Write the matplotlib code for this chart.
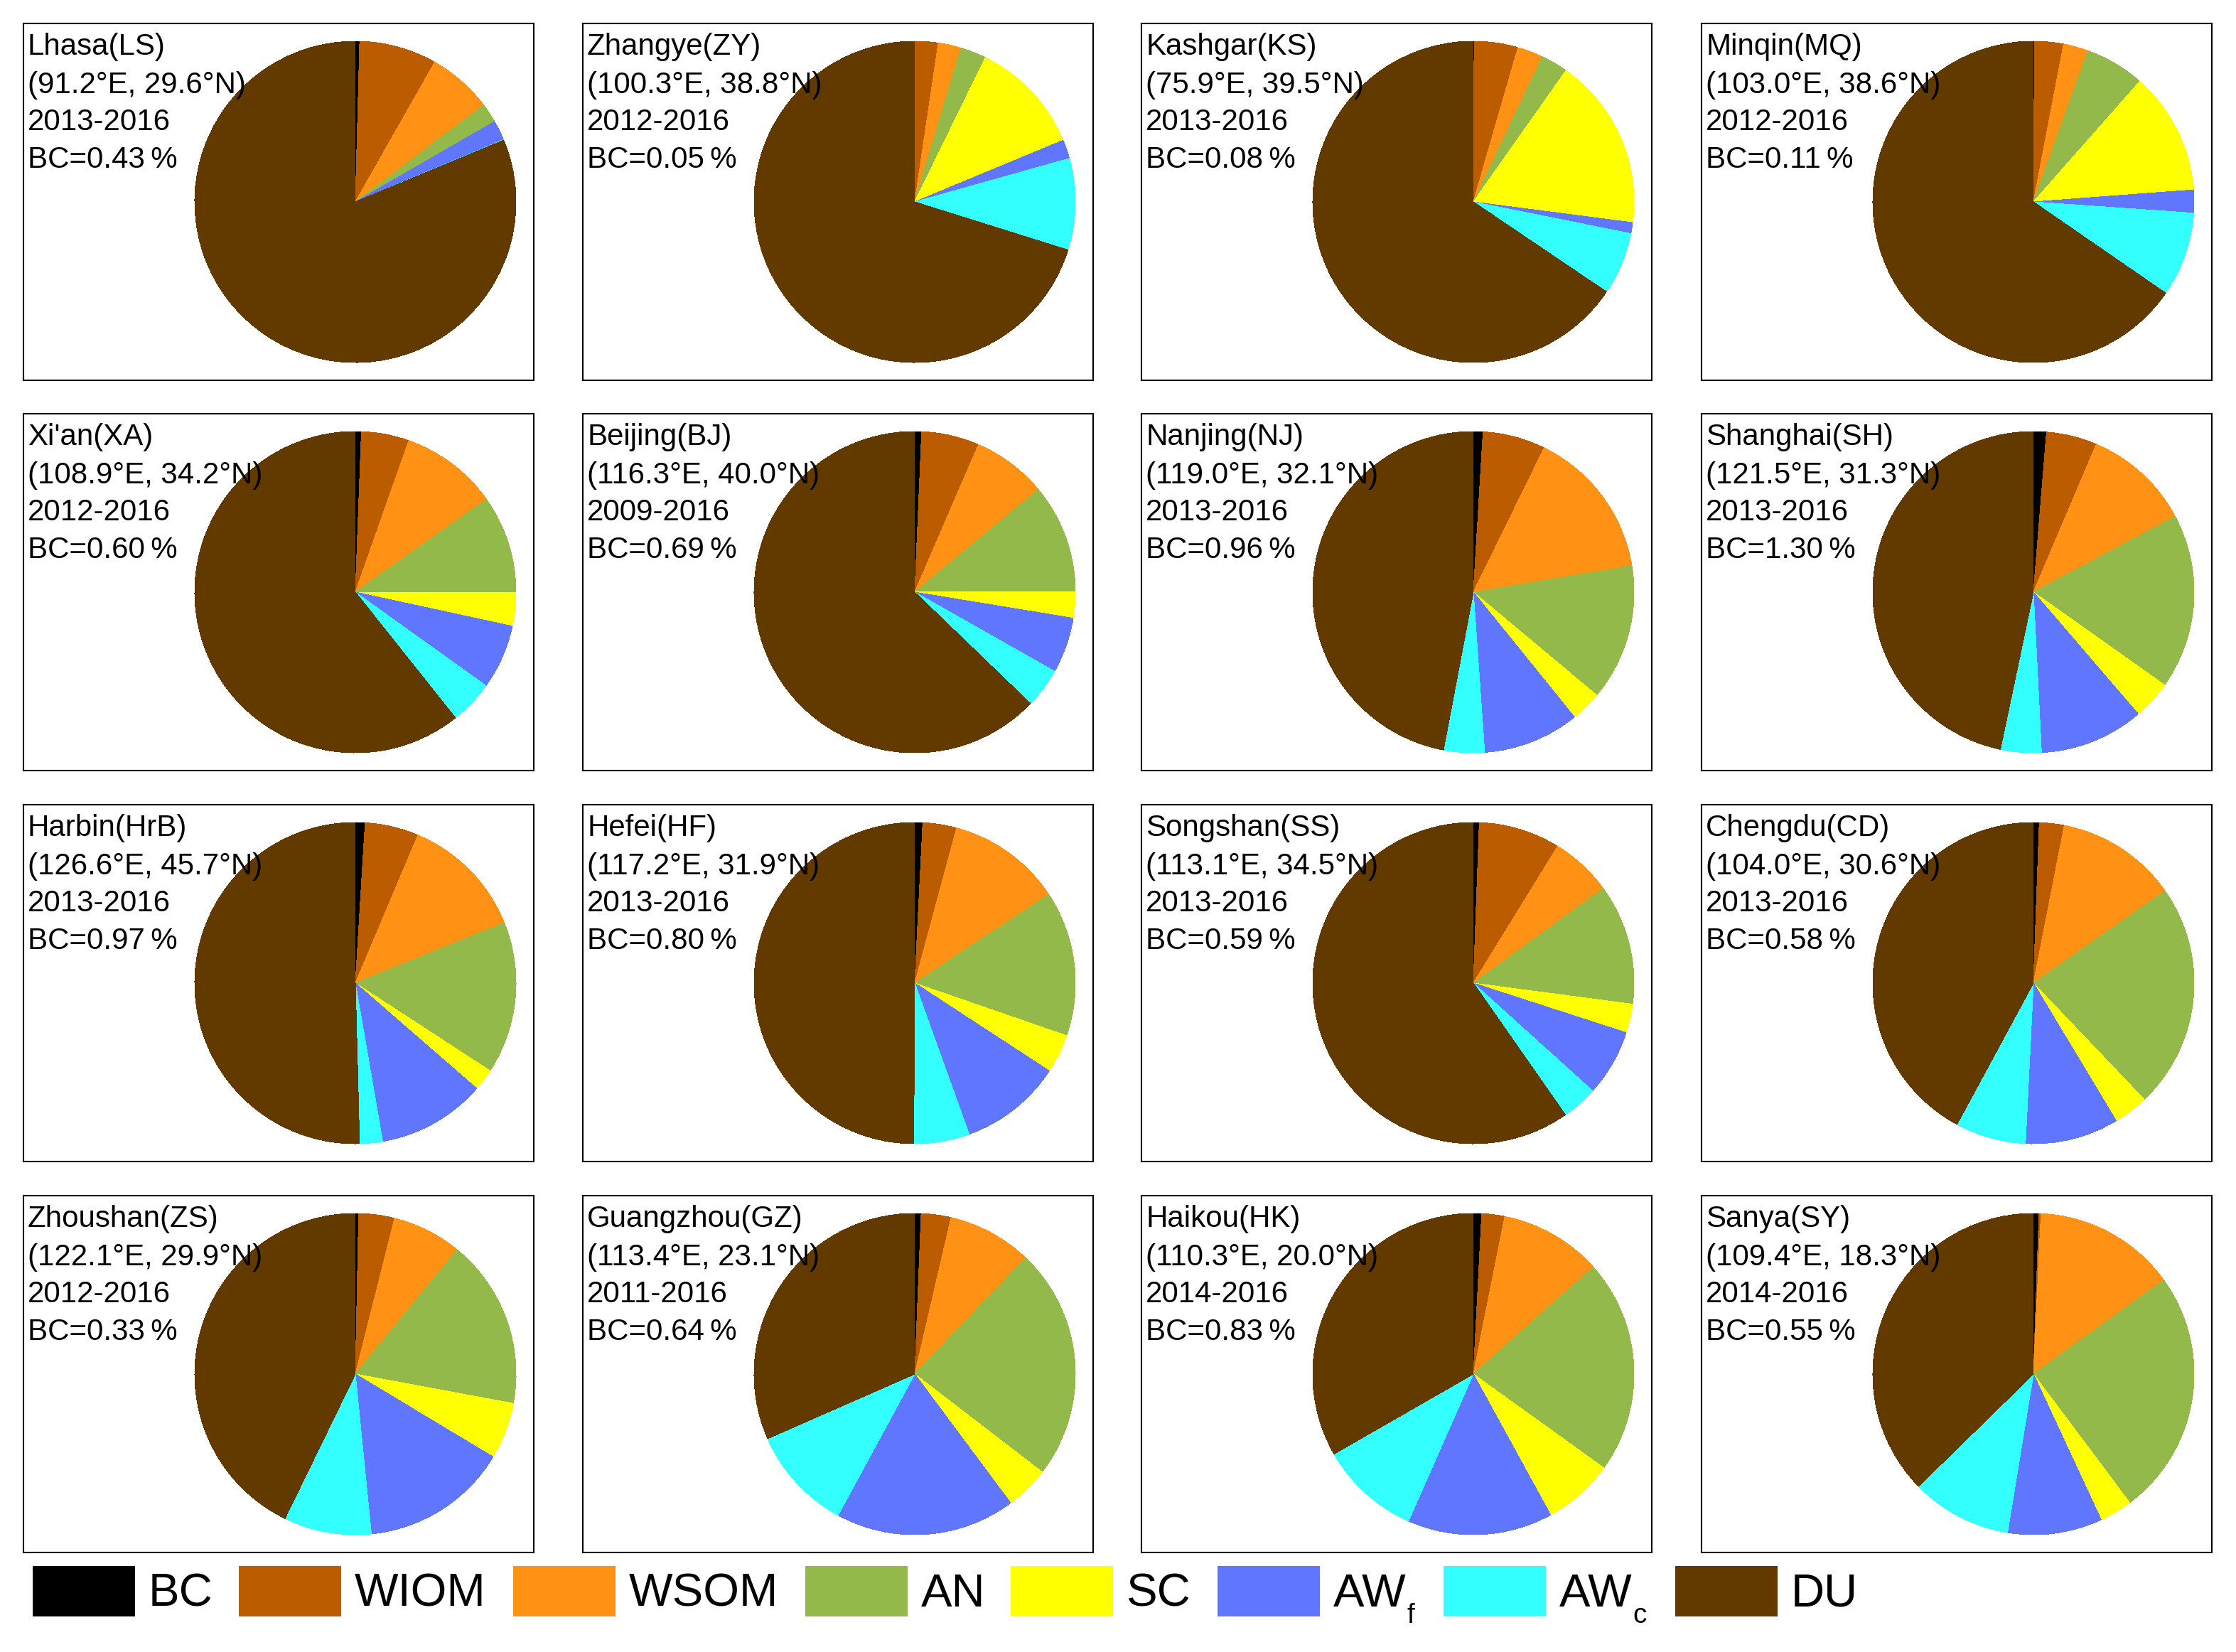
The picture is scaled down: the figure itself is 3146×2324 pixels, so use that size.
import matplotlib
matplotlib.use("Agg")
import matplotlib.pyplot as plt
from matplotlib.patches import Rectangle

plt.rcParams["font.family"] = ["Liberation Sans", "DejaVu Sans"]

# Stations, left to right, top to bottom
stations = ["Lhasa(LS)", "Zhangye(ZY)", "Kashgar(KS)", "Minqin(MQ)",
            "Xi'an(XA)", "Beijing(BJ)", "Nanjing(NJ)", "Shanghai(SH)",
            "Harbin(HrB)", "Hefei(HF)", "Songshan(SS)", "Chengdu(CD)",
            "Zhoushan(ZS)", "Guangzhou(GZ)", "Haikou(HK)", "Sanya(SY)"]
coords = ["91.2°E, 29.6°N", "100.3°E, 38.8°N", "75.9°E, 39.5°N", "103.0°E, 38.6°N",
          "108.9°E, 34.2°N", "116.3°E, 40.0°N", "119.0°E, 32.1°N", "121.5°E, 31.3°N",
          "126.6°E, 45.7°N", "117.2°E, 31.9°N", "113.1°E, 34.5°N", "104.0°E, 30.6°N",
          "122.1°E, 29.9°N", "113.4°E, 23.1°N", "110.3°E, 20.0°N", "109.4°E, 18.3°N"]
periods = ["2013-2016", "2012-2016", "2013-2016", "2012-2016",
           "2012-2016", "2009-2016", "2013-2016", "2013-2016",
           "2013-2016", "2013-2016", "2013-2016", "2013-2016",
           "2012-2016", "2011-2016", "2014-2016", "2014-2016"]

# Mass fractions in percent
bc = [0.43, 0.05, 0.08, 0.11, 0.60, 0.69, 0.96, 1.30,
      0.97, 0.80, 0.59, 0.58, 0.33, 0.64, 0.83, 0.55]
wiom = [7.8, 2.3, 4.4, 2.9, 4.8, 5.8, 6.3, 5.1,
        5.4, 3.4, 8.2, 2.5, 3.6, 3.0, 2.3, 0.2]
wsom = [6.5, 2.3, 2.6, 2.5, 9.8, 7.5, 15.1, 10.8,
        12.5, 11.5, 6.2, 12.2, 7.0, 8.5, 10.3, 14.3]
an = [1.95, 2.6, 2.7, 6.0, 9.8, 11.0, 13.7, 17.6,
      15.3, 14.6, 12.1, 22.6, 17.0, 23.3, 21.5, 24.7]
sc = [0.0, 11.5, 17.3, 12.3, 3.4, 2.6, 3.1, 3.9,
      2.2, 3.9, 2.9, 3.5, 5.7, 4.4, 7.1, 3.3]
awf = [2.0, 1.9, 1.1, 2.3, 6.5, 5.6, 9.7, 10.5,
       10.9, 10.3, 6.7, 9.4, 14.8, 18.1, 14.6, 9.5]
awc = [0.05, 9.2, 6.3, 8.5, 4.4, 4.0, 4.1, 4.1,
       2.3, 5.6, 3.6, 7.1, 8.8, 10.5, 10.1, 10.1]
du = [81.3, 70.2, 65.6, 65.4, 60.7, 62.8, 47.0, 46.7,
      50.4, 49.9, 59.7, 42.1, 42.8, 31.6, 33.3, 37.3]

species = ["BC", "WIOM", "WSOM", "AN", "SC", "AW", "AW", "DU"]
subscripts = ["", "", "", "", "", "f", "c", ""]
colors = ["#000000", "#BB5C00", "#FF9114", "#92B94A",
          "#FFFF00", "#6076FF", "#33FFFF", "#623A00"]

W, H = 3146, 2324
fig = plt.figure(figsize=(W / 200, H / 200), dpi=200)

box_x = [33, 820, 1606, 2394]
box_y = [33, 582, 1132, 1682]
box_w, box_h = 718, 502
text_base = [44, 98, 150, 203]

for i, name in enumerate(stations):
    col = i % 4
    row = i // 4
    ax = fig.add_axes([box_x[col] / W, 1 - (box_y[row] + box_h) / H, box_w / W, box_h / H])
    vals = [s[i] for s in (bc, wiom, wsom, an, sc, awf, awc, du)]
    ax.pie(vals, colors=colors, startangle=90, counterclock=False, radius=226,
           center=(467, 251), frame=True, wedgeprops={"linewidth": 0, "antialiased": False})
    ax.set_xlim(0, box_w)
    ax.set_ylim(0, box_h)
    ax.set_xticks([])
    ax.set_yticks([])
    for spine in ax.spines.values():
        spine.set_linewidth(0.75)
    lines = [name, "(" + coords[i] + ")", periods[i], "BC=%.2f\u2009%%" % bc[i]]
    for k, line in enumerate(lines):
        ax.text(6, box_h - text_base[k], line, fontsize=15.15, ha="left", va="baseline")

# Legend row along the bottom
leg_x = [46, 336, 722, 1133, 1422, 1713, 2031, 2357]
renderer = fig.canvas.get_renderer()
for x, label, sub, c in zip(leg_x, species, subscripts, colors):
    fig.patches.append(Rectangle((x / W, 1 - 2274 / H), 144 / W, 71 / H,
                                 transform=fig.transFigure, facecolor=c, edgecolor="none"))
    t = fig.text((x + 163) / W, 1 - 2260 / H, label, fontsize=23.5, ha="left", va="baseline")
    if sub:
        end = t.get_window_extent(renderer).x1
        fig.text((end + 1) / W, 1 - 2283 / H, sub, fontsize=14, ha="left", va="baseline")

fig.savefig("out.png", dpi=200)
